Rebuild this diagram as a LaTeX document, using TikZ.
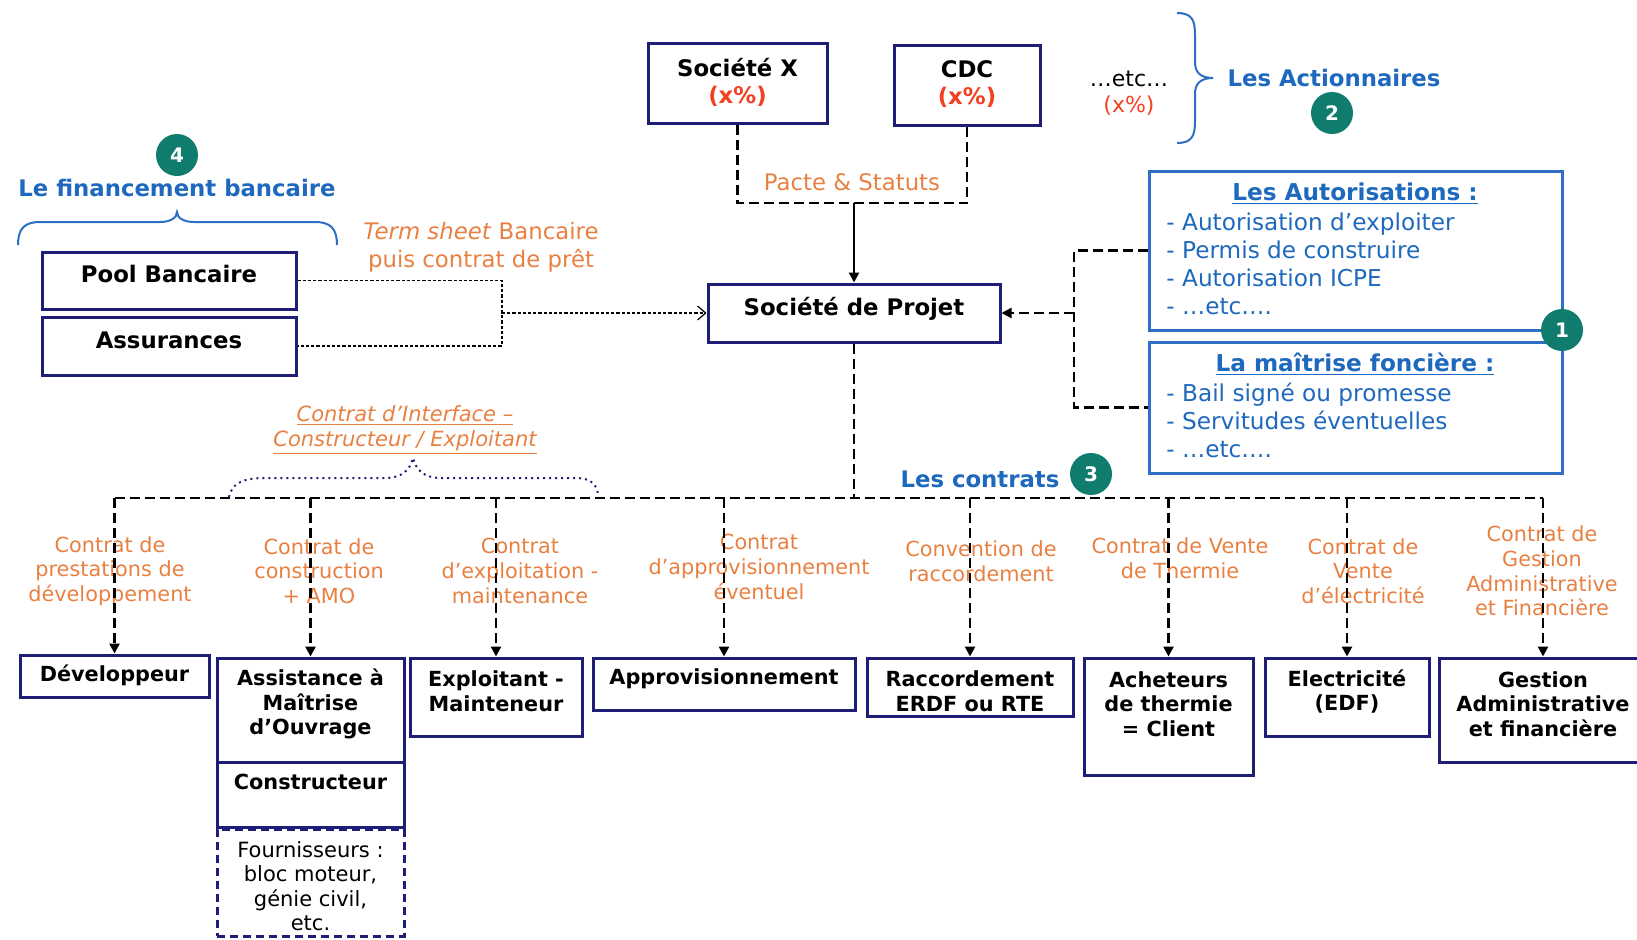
\documentclass[tikz,border=0pt]{standalone}
\usepackage{fontspec}
\setmainfont{DejaVu Sans}
\usetikzlibrary{arrows.meta,fit}
\definecolor{cNavy}{RGB}{30,30,120}
\definecolor{cLBlue}{RGB}{46,110,195}
\definecolor{cTitle}{RGB}{30,105,190}
\definecolor{cOrange}{RGB}{232,128,66}
\definecolor{cRed}{RGB}{242,64,32}
\definecolor{cTeal}{RGB}{16,124,110}
\begin{document}
\begin{tikzpicture}[x=0.5pt,y=-0.5pt,
 box/.style={draw=cNavy,line width=1.5pt,inner sep=0pt,fill=white},
 lbox/.style={draw=cLBlue,line width=1.5pt,inner sep=0pt},
 fourbox/.style={draw=cNavy,line width=1.5pt,inner sep=0pt,dash pattern=on 4pt off 2.5pt},
 bigtxt/.style={font=\fontsize{11.4}{13.5}\selectfont\bfseries,align=center,inner sep=0pt},
 bottxt/.style={font=\fontsize{10.4}{12.3}\selectfont\bfseries,align=center,inner sep=0pt},
 clab/.style={text=cOrange,font=\fontsize{10.4}{12.3}\selectfont,align=center,inner sep=0pt},
 olab/.style={text=cOrange,font=\fontsize{11.4}{14}\selectfont,align=center,inner sep=0pt},
 ttl/.style={text=cTitle,font=\fontsize{11.4}{13.5}\selectfont\bfseries,inner sep=0pt},
 autxt/.style={text=cTitle,font=\fontsize{11.6}{13.9}\selectfont,align=left,anchor=west,inner sep=0pt},
 num/.style={circle,fill=cTeal,text=white,font=\fontsize{10}{12}\selectfont\bfseries,minimum size=21pt,inner sep=0pt},
 dline/.style={line width=1.3pt,dash pattern=on 5pt off 2.5pt},
 dotl/.style={line width=0.6pt,dash pattern=on 1.6pt off 1pt},
 arr/.style={-{Triangle[length=5pt,width=5pt]}},
 oarr/.style={-{Straight Barb[length=4pt,width=7pt]}},
 brc/.style={draw=cLBlue,line width=1pt},
]
\useasboundingbox (0,0) rectangle (1637,939);
\clip (0,0) rectangle (1637,939);

% ---------- shareholders ----------
\node[box,fit={(648,43)(827,123)}] (sx) {};
\node[bigtxt] (sxt) at (737.5,82) {Société X\\\textcolor{cRed}{(x\%)}};
\node[box,fit={(894,45)(1040,125)}] (cdc) {};
\node[bigtxt] (cdct) at (967,84) {CDC\\\textcolor{cRed}{(x\%)}};
\node[inner sep=0pt,align=center,font=\fontsize{11}{13}\selectfont] (etc) at (1129,93) {…etc…\\\textcolor{cRed}{(x\%)}};
\draw[brc] (1177,13) .. controls (1192,13) and (1195,20) .. (1195,35) -- (1195,62)
  .. controls (1195,72) and (1200,78) .. (1213,78)
  .. controls (1200,78) and (1195,84) .. (1195,94) -- (1195,121)
  .. controls (1195,136) and (1192,143) .. (1177,143);
\node[ttl] (act) at (1334,78) {Les Actionnaires};
\node[num] (n2) at (1332,113) {2};
\node[olab] (pacte) at (852,182) {Pacte \& Statuts};

% ---------- project company ----------
\node[box,fit={(708,284)(1000,342)}] (sdp) {};
\node[bigtxt] (sdpt) at (854,309) {Société de Projet};

% ---------- bank financing ----------
\node[num] (n4) at (177,155) {4};
\node[ttl] (fin) at (177,188) {Le financement bancaire};
\draw[brc] (18,245) .. controls (18,228) and (25,222) .. (40,222) -- (160,222)
  .. controls (170,222) and (177,218) .. (177,212)
  .. controls (177,218) and (184,222) .. (194,222) -- (315,222)
  .. controls (330,222) and (337,228) .. (337,245);
\node[box,fit={(42,252)(296,309)}] (pool) {};
\node[bigtxt] (poolt) at (169,274) {Pool Bancaire};
\node[box,fit={(42,317)(296,375)}] (ass) {};
\node[bigtxt] (asst) at (169,340) {Assurances};
\node[olab] (term) at (481,247) {\textit{Term sheet} Bancaire\\puis contrat de prêt};

% ---------- authorisations ----------
\node[lbox,fit={(1149,171)(1562,330)}] (aut) {};
\node[text=cTitle,font=\fontsize{11.6}{13.9}\selectfont\bfseries,inner sep=0pt] (autt) at (1355,194) {\underline{Les Autorisations :}};
\node[autxt] (autl) at (1166,264) {- Autorisation d’exploiter\\- Permis de construire\\- Autorisation ICPE\\- …etc….};
\node[lbox,fit={(1149,342)(1562,473)}] (fon) {};
\node[text=cTitle,font=\fontsize{11.6}{13.9}\selectfont\bfseries,inner sep=0pt] (font) at (1355,364) {\underline{La maîtrise foncière :}};
\node[autxt] (fonl) at (1166,420.5) {- Bail signé ou promesse\\- Servitudes éventuelles\\- …etc….};
\node[num] (n1) at (1562,330) {1};

% ---------- contracts ----------
\node[ttl] (ctr) at (980,479) {Les contrats};
\node[num] (n3) at (1091,474) {3};
\node[text=cOrange,font=\fontsize{10.5}{12.2}\selectfont\itshape,align=center,inner sep=0pt] (intf) at (405,430)
  {\underline{Contrat d’Interface –}\\\underline{Constructeur / Exploitant}};

\node[clab] (l1) at (110,571) {Contrat de\\prestations de\\développement};
\node[clab] (l2) at (319,571) {Contrat de\\construction\\+ AMO};
\node[clab] (l3) at (520,571) {Contrat\\d’exploitation -\\maintenance};
\node[clab] (l4) at (759,567) {Contrat\\d’approvisionnement\\éventuel};
\node[clab] (l5) at (981,561.5) {Convention de\\raccordement};
\node[clab] (l6) at (1180,558.5) {Contrat de Vente\\de Thermie};
\node[clab] (l7) at (1363,571) {Contrat de\\Vente\\d’électricité};
\node[clab] (l8) at (1542,571) {Contrat de\\Gestion\\Administrative\\et Financière};

% ---------- bottom boxes ----------
\node[box,fit={(20,655)(209,697)}] (dev) {};
\node[bottxt] (devt) at (114.5,675) {Développeur};
\node[box,fit={(217,658)(404,762)}] (amo) {};
\node[bottxt] (amot) at (310.5,704) {Assistance à\\Maîtrise\\d’Ouvrage};
\node[box,fit={(217,762)(404,827)}] (cons) {};
\node[bottxt] (const) at (310.5,782) {Constructeur};
\node[fourbox,fit={(217,829)(404,936)}] (four) {};
\node[inner sep=0pt,align=center,font=\fontsize{10.5}{12.25}\selectfont] (fourt) at (310.5,886) {Fournisseurs :\\bloc moteur,\\génie civil,\\etc.};
\node[box,fit={(410,658)(582,736)}] (expl) {};
\node[bottxt] (explt) at (496,691.5) {Exploitant -\\Mainteneur};
\node[box,fit={(593,658)(855,710)}] (appro) {};
\node[bottxt] (approt) at (724,679) {Approvisionnement};
\node[box,fit={(867,658)(1073,716)}] (racc) {};
\node[bottxt] (racct) at (970,691.5) {Raccordement\\ERDF ou RTE};
\node[box,fit={(1084,658)(1253,775)}] (ach) {};
\node[bottxt] (acht) at (1168.5,704) {Acheteurs\\de thermie\\= Client};
\node[box,fit={(1265,658)(1429,736)}] (elec) {};
\node[bottxt] (elect) at (1347,691.5) {Electricité\\(EDF)};
\node[box,fit={(1439,658)(1647,762)}] (gest) {};
\node[bottxt] (gestt) at (1543,704) {Gestion\\Administrative\\et financière};

% ---------- connectors ----------
\coordinate (pj) at (854,203);
\draw[dline] (sx.south) |- (pj);
\draw[dline] (cdc.south) |- (pj);
\draw[line width=1.3pt,arr] (pj) -- (sdp.north);

\coordinate (fv) at (502,313);
\draw[dotl] (pool.east) -| (fv) |- (ass.east);
\draw[dotl,oarr] (fv) -- (sdp.west);

\coordinate (rv) at (1074,313);
\draw[dline] (aut.west) -| (rv) |- (fon.west);
\draw[dline,arr] (rv) -- (sdp.east);

\coordinate (bj) at (854,498);
\draw[dline] (sdp.south) -- (bj);
\draw[dline] (dev.north |- bj) -- (gest.north |- bj);
\foreach \b in {dev,amo,expl,appro,racc,ach,elec,gest}
  \draw[dline,arr] (\b.north |- bj) -- (\b.north);

\draw[cNavy,line width=1pt,dotted] (229,497) .. controls (232,482) and (245,478) .. (265,478) -- (385,478)
  .. controls (402,478) and (410,470) .. (413,458)
  .. controls (416,470) and (424,478) .. (441,478) -- (575,478)
  .. controls (592,478) and (597,485) .. (598,495);
\end{tikzpicture}
\end{document}
